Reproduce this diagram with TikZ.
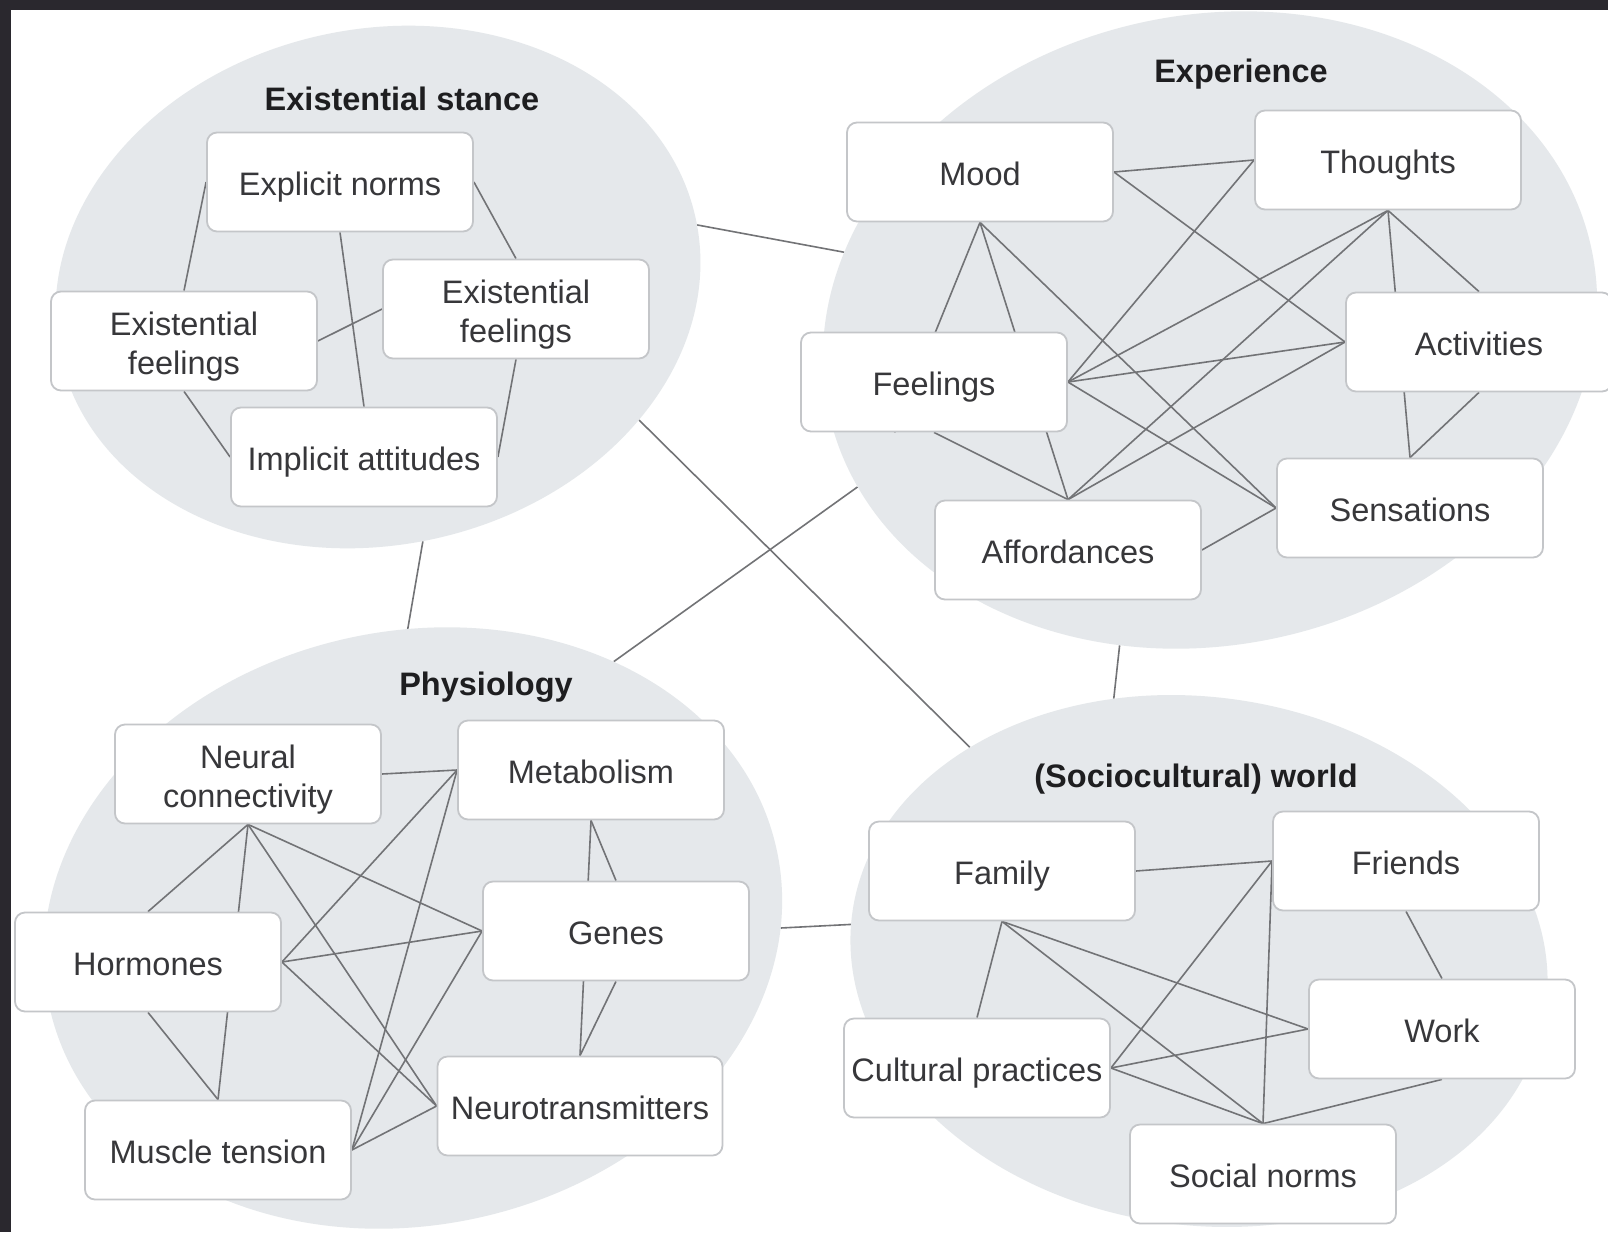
\documentclass[tikz,border=0pt]{standalone}
\usepackage{fontspec}
\setmainfont{Liberation Sans}
\usetikzlibrary{shapes.geometric}

\pgfdeclarelayer{paper}
\pgfdeclarelayer{links}
\pgfdeclarelayer{blobs}
\pgfdeclarelayer{edges}
\pgfsetlayers{paper,links,blobs,edges,main}

\definecolor{frame}{RGB}{42,40,46}
\definecolor{blob}{RGB}{229,232,235}
\definecolor{boxline}{RGB}{196,198,201}
\definecolor{wirecol}{RGB}{114,115,118}
\definecolor{ink}{RGB}{55,55,58}
\definecolor{titleink}{RGB}{30,30,32}

% box label: lines set in a tabular, lowered a little so the capitals sit centred
\newcommand{\cardtext}[1]{\raisebox{-6pt}[\height][\depth]{\begin{tabular}{@{}c@{}}#1\end{tabular}}}

\tikzset{
  cluster/.style={ellipse, fill=blob, draw=none, inner sep=0pt},
  item/.style={rectangle, rounded corners=10pt, draw=boxline, line width=1.8pt,
    fill=white, minimum width=266pt, minimum height=99pt, inner sep=2pt,
    text=ink, font=\fontsize{32.5}{39}\selectfont},
  heading/.style={font=\bfseries\fontsize{32.5}{39}\selectfont, text=titleink, inner sep=0pt},
  wire/.style={draw=wirecol, line width=1.6pt},
}

\begin{document}
\begin{tikzpicture}[x=1pt, y=-1pt]
\useasboundingbox (0,0) rectangle (1608,1232);
\begin{pgfonlayer}{paper}
  \fill[white] (0,0) rectangle (1608,1232);
\end{pgfonlayer}

% the four domains
\begin{pgfonlayer}{blobs}
  \node[cluster, rotate=12, minimum width=650pt, minimum height=516pt] (stance) at (378,287) {};
  \node[cluster, rotate=12, minimum width=780pt, minimum height=630pt] (exper) at (1210,330) {};
  \node[cluster, rotate=12, minimum width=744pt, minimum height=594pt] (phys) at (413,928) {};
  \node[cluster, rotate=-8, minimum width=700pt, minimum height=528pt] (world) at (1199,961) {};
\end{pgfonlayer}

% domain titles
\node[heading] (t-stance) at (402,99) {Existential stance};
\node[heading] (t-exper) at (1241,74) {Experience};
\node[heading] (t-phys) at (486,687) {Physiology};
\node[heading] (t-world) at (1196,779) {(Sociocultural) world};

% existential stance
\node[item] (expl) at (340,182) {\cardtext{Explicit norms}};
\node[item] (exfl) at (184,341) {\cardtext{Existential\\feelings}};
\node[item] (exfr) at (516,309) {\cardtext{Existential\\feelings}};
\node[item] (impl) at (364,457) {\cardtext{Implicit attitudes}};

% experience
\node[item] (mood) at (980,172) {\cardtext{Mood}};
\node[item] (thou) at (1388,160) {\cardtext{Thoughts}};
\node[item] (acti) at (1479,342) {\cardtext{Activities}};
\node[item] (feel) at (934,382) {\cardtext{Feelings}};
\node[item] (affo) at (1068,550) {\cardtext{Affordances}};
\node[item] (sens) at (1410,508) {\cardtext{Sensations}};

% physiology
\node[item] (neur) at (248,774) {\cardtext{Neural\\connectivity}};
\node[item] (meta) at (591,770) {\cardtext{Metabolism}};
\node[item] (horm) at (148,962) {\cardtext{Hormones}};
\node[item] (gene) at (616,931) {\cardtext{Genes}};
\node[item] (musc) at (218,1150) {\cardtext{Muscle tension}};
\node[item, minimum width=285pt] (ntra) at (580,1106) {\cardtext{Neurotransmitters}};

% (sociocultural) world
\node[item] (fami) at (1002,871) {\cardtext{Family}};
\node[item] (frie) at (1406,861) {\cardtext{Friends}};
\node[item] (work) at (1442,1029) {\cardtext{Work}};
\node[item] (cult) at (977,1068) {\cardtext{Cultural practices}};
\node[item] (soci) at (1263,1174) {\cardtext{Social norms}};

% links between the domains
\begin{pgfonlayer}{links}
  \draw[wire] (stance.-1) -- (exper.156);
  \draw[wire] (stance.-92) -- (phys.79);
  \draw[wire] (stance.-39) -- (world.145);
  \draw[wire] (phys.41) -- (exper.192);
  \draw[wire] (phys.-12) -- (world.182);
  \draw[wire] (exper.242) -- (world.116);
\end{pgfonlayer}

% links inside each domain
\begin{pgfonlayer}{edges}
  \draw[wire] (expl.west) -- (exfl.north);
  \draw[wire] (expl.south) -- (impl.north);
  \draw[wire] (expl.east) -- (exfr.north);
  \draw[wire] (exfl.east) -- (exfr.west);
  \draw[wire] (exfl.south) -- (impl.west);
  \draw[wire] (exfr.south) -- (impl.east);

  \draw[wire] (mood.east) -- (thou.west);
  \draw[wire] (mood.east) -- (acti.west);
  \draw[wire] (mood.south) -- (feel.-128);
  \draw[wire] (mood.south) -- (affo.north);
  \draw[wire] (mood.south) -- (sens.west);
  \draw[wire] (thou.west) -- (feel.east);
  \draw[wire] (thou.south) -- (feel.east);
  \draw[wire] (thou.south) -- (affo.north);
  \draw[wire] (thou.south) -- (acti.north);
  \draw[wire] (thou.south) -- (sens.north);
  \draw[wire] (acti.west) -- (feel.east);
  \draw[wire] (acti.west) -- (affo.north);
  \draw[wire] (acti.south) -- (sens.north);
  \draw[wire] (feel.east) -- (sens.west);
  \draw[wire] (feel.south) -- (affo.north);
  \draw[wire] (affo.east) -- (sens.west);

  \draw[wire] (neur.east) -- (meta.west);
  \draw[wire] (neur.south) -- (horm.north);
  \draw[wire] (neur.south) -- (musc.north);
  \draw[wire] (horm.south) -- (musc.north);
  \draw[wire] (neur.south) -- (gene.west);
  \draw[wire] (neur.south) -- (ntra.west);
  \draw[wire] (horm.east) -- (meta.west);
  \draw[wire] (horm.east) -- (gene.west);
  \draw[wire] (horm.east) -- (ntra.west);
  \draw[wire] (musc.east) -- (meta.west);
  \draw[wire] (musc.east) -- (gene.west);
  \draw[wire] (musc.east) -- (ntra.west);
  \draw[wire] (meta.south) -- (gene.north);
  \draw[wire] (meta.south) -- (ntra.north);
  \draw[wire] (gene.south) -- (ntra.north);

  \draw[wire] (fami.east) -- (frie.west);
  \draw[wire] (fami.south) -- (cult.north);
  \draw[wire] (fami.south) -- (work.west);
  \draw[wire] (fami.south) -- (soci.north);
  \draw[wire] (cult.east) -- (frie.west);
  \draw[wire] (cult.east) -- (work.west);
  \draw[wire] (cult.east) -- (soci.north);
  \draw[wire] (frie.west) -- (soci.north);
  \draw[wire] (frie.south) -- (work.north);
  \draw[wire] (soci.north) -- (work.south);
\end{pgfonlayer}

% dark frame along the top and left edges
\fill[frame] (0,0) rectangle (1608,10);
\fill[frame] (0,0) rectangle (11,1232);
\end{tikzpicture}
\end{document}
